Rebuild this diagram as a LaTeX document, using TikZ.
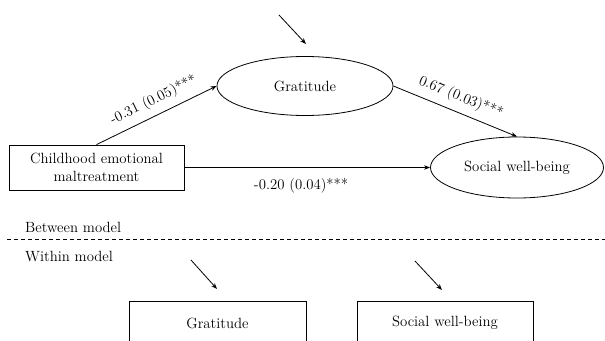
\documentclass[tikz,border=0pt]{standalone}
\usetikzlibrary{shapes.geometric,arrows.meta}
\tikzset{
  every node/.style={font=\rmfamily\fontsize{14.8}{18.5}\selectfont},
  conn/.style={line width=0.8pt,-{Stealth[length=6pt,width=4.5pt]}},
  latent/.style={draw,ellipse,line width=0.8pt,inner sep=0pt},
  obs/.style={draw,rectangle,line width=0.8pt,inner sep=0pt,align=center},
  coef/.style={sloped,inner sep=3pt},
  sep/.style={line width=0.7pt,dash pattern=on 4pt off 3pt}
}
\begin{document}
\begin{tikzpicture}[x=1pt,y=-1pt]
\useasboundingbox (0,0) rectangle (605,340);
\clip (0,0) rectangle (605,340);
% Between model
\node[latent,minimum width=176pt,minimum height=59pt] (grat) at (305,86) {Gratitude};
\node[latent,minimum width=173pt,minimum height=61pt] (swb) at (517,167.5) {Social well-being};
\node[obs,minimum width=175pt,minimum height=45pt] (cem) at (96.5,167.5) {Childhood emotional\\maltreatment};
\coordinate (e1s) at (279,15);
\coordinate (e1e) at (306,44);
\draw[conn] (e1s) -- (e1e);
\draw[conn] (cem.north) -- node[coef,above=4pt,pos=0.53] (c1) {-0.31 (0.05)***} (grat.west);
\draw[conn] (grat.east) -- node[coef,above=4pt,pos=0.5] (c2) {0.67 (0.03)***} (swb.north);
\draw[conn] (cem.east) -- node[below=7pt,pos=0.475,inner sep=3pt] (c3) {-0.20 (0.04)***} (swb.west);
\node[anchor=west,inner sep=0pt] (bm) at (25,227) {Between model};
% separator
\coordinate (dl) at (7,239);
\coordinate (dr) at (605,239);
\draw[sep] (dl) -- (dr);
% Within model
\node[anchor=west,inner sep=0pt] (wm) at (25,257) {Within model};
\node[obs,minimum width=177pt,minimum height=44pt] (wg) at (217.5,323) {Gratitude};
\node[obs,minimum width=176pt,minimum height=44pt] (ws) at (445,323) {Social well-being};
\coordinate (e2s) at (191,260);
\coordinate (e2e) at (217,289);
\coordinate (e3s) at (415,261);
\coordinate (e3e) at (442,290);
\draw[conn] (e2s) -- (e2e);
\draw[conn] (e3s) -- (e3e);
\end{tikzpicture}
\end{document}
